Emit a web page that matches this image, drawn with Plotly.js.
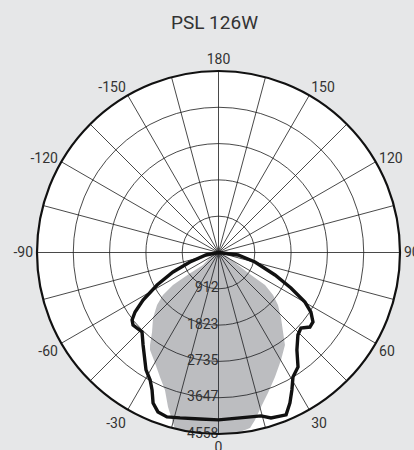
<!DOCTYPE html>
<html>
<head>
<meta charset="utf-8">
<script src="https://cdn.plot.ly/plotly-3.0.1.min.js"></script>
<style>html,body{margin:0;padding:0;background:#e6e7e8;}#chart{width:414px;height:450px;}</style>
</head>
<body>
<div id="chart"></div>
<script>
// C0-C180 plane (grey filled)
const greyTheta = [-90, -70, -51, -54, -54.5, -52.6, -49.5, -45, -39.9, -36.5, -35.1, -29.9, -25.2, -21.3, -18.1, -15.5, -13.8, -10, -5, 0, 5, 5.9, 10.2, 12.3, 15.4, 19.4, 24.4, 30.2, 35.7, 39.1, 43.7, 48.6, 52.1, 55.1, 55.3, 57.3, 69, 90];
const greyR = [0, 150, 500, 951, 1404, 1755, 2030, 2325, 2602, 2890, 2991, 3199, 3453, 3703, 4080, 4364, 4570, 4580, 4580, 4580, 4580, 4554, 4476, 4303, 4022, 3739, 3432, 3122, 2860, 2570, 2273, 1992, 1735, 1424, 992, 581, 175, 0];
// C90-C270 plane (black line)
const lineTheta = [-90, -78.7, -71.6, -66.8, -62.1, -57.8, -54.5, -52, -49.7, -43.9, -39.2, -31.7, -28.2, -25.8, -23.5, -20.8, -17.4, -13.1, -6.3, 0, 7.4, 14.6, 17.6, 22.6, 25.4, 28.1, 30.9, 34.8, 38.8, 43.9, 47.5, 50.8, 53.7, 57.2, 60.2, 63.9, 68.3, 75.4, 82.7, 90];
const lineR = [0, 320, 755, 1243, 1746, 2239, 2574, 2754, 2814, 2770, 2997, 3465, 3633, 3834, 4120, 4282, 4327, 4265, 4205, 4204, 4189, 4240, 4358, 4417, 4182, 3913, 3642, 3499, 3142, 2876, 2807, 2962, 2944, 2761, 2502, 2026, 1527, 947, 494, 0];
// axes
const radialTicks = [912, 1823, 2735, 3647, 4558];
const radialMax = 4558;
const angleTicks = [0, 15, 30, 45, 60, 75, 90, 105, 120, 135, 150, 165, 180, 195, 210, 225, 240, 255, 270, 285, 300, 315, 330, 345];
const angleLabels = ["0", "", "30", "", "60", "", "90", "", "120", "", "150", "", "180", "", "-150", "", "-120", "", "-90", "", "-60", "", "-30", ""];
const chartTitle = "PSL 126W";

const font = "Roboto, 'Liberation Sans', sans-serif";

const data = [
  {type: 'scatterpolar', mode: 'lines', theta: greyTheta, r: greyR, fill: 'toself',
   fillcolor: 'rgba(32,35,45,0.3)', line: {color: 'rgba(0,0,0,0)', width: 0}, hoverinfo: 'skip', showlegend: false},
  {type: 'scatterpolar', mode: 'lines', theta: lineTheta, r: lineR,
   line: {color: '#111111', width: 3.4}, hoverinfo: 'skip', showlegend: false},
  {type: 'scatterpolar', mode: 'text', theta: radialTicks.map(() => 0), r: radialTicks,
   text: radialTicks.map(String), textposition: 'middle left', cliponaxis: false,
   textfont: {family: font, size: 14, color: '#333333'}, hoverinfo: 'skip', showlegend: false}
];

const layout = {
  width: 414, height: 450,
  margin: {l: 0, r: 0, t: 0, b: 0},
  paper_bgcolor: '#e6e7e8',
  title: {text: chartTitle, x: 0.518, xanchor: 'center', y: 0.951, yanchor: 'middle',
          font: {family: font, size: 19, color: '#333333'}},
  showlegend: false,
  polar: {
    domain: {x: [37/414, 400/414], y: [1 - 434/450, 1 - 71/450]},
    bgcolor: '#ffffff',
    angularaxis: {
      rotation: -90, direction: 'counterclockwise',
      tickmode: 'array', tickvals: angleTicks, ticktext: angleLabels,
      ticks: '', showline: true, linecolor: '#111111', linewidth: 2.2,
      showgrid: true, gridcolor: '#1a1a1a', gridwidth: 0.8,
      layer: 'above traces',
      tickfont: {family: font, size: 14, color: '#333333'}
    },
    radialaxis: {
      range: [0, radialMax], angle: 262.5,
      tickmode: 'array', tickvals: radialTicks, showticklabels: false,
      ticks: '', showline: false, showgrid: true, gridcolor: '#1a1a1a', gridwidth: 0.8,
      layer: 'above traces'
    }
  }
};

Plotly.newPlot('chart', data, layout, {displayModeBar: false, staticPlot: true});
</script>
</body>
</html>
